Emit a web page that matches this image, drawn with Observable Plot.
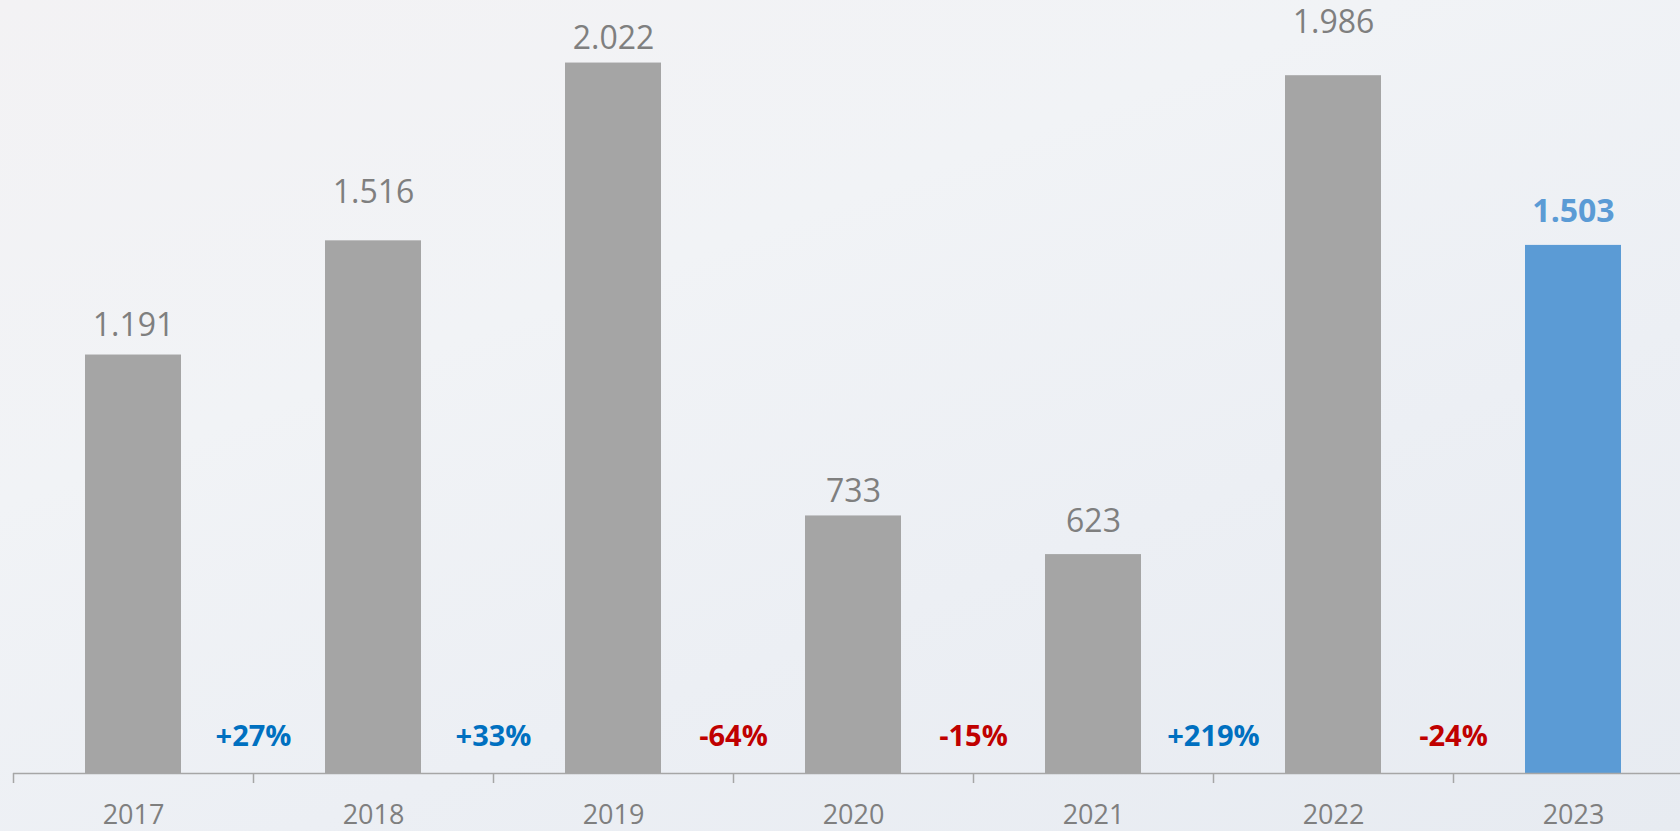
<!DOCTYPE html>
<html>
<head>
<meta charset="utf-8">
<script src="https://cdn.jsdelivr.net/npm/d3@7"></script>
<script src="https://cdn.jsdelivr.net/npm/@observablehq/plot@0.6"></script>
<style>
  html, body { margin: 0; padding: 0; overflow: hidden; }
  body {
    width: 1680px; height: 831px;
    background: linear-gradient(160deg, #f3f2f4 0%, #f1f3f6 35%, #eceff4 65%, #e7ebf1 100%);
    font-family: "Open Sans", sans-serif;
  }
  #chart svg { display: block; }
</style>
</head>
<body>
<div id="chart"></div>
<script>
// ---- data ----
const years = [2017, 2018, 2019, 2020, 2021, 2022, 2023];
const values = [1191, 1516, 2022, 733, 623, 1986, 1503];
const changes = ["+27%", "+33%", "-64%", "-15%", "+219%", "-24%"];
const highlightYear = 2023;
// gap (px) between each bar top and its value label's baseline, as placed in the original
const labelGaps = [19, 38, 14, 14, 23, 43, 23];

// ---- derived tables ----
const data = years.map((year, i) => ({year, value: values[i]}));
const changeData = changes.map((label, i) => ({x: years[i] + 0.5, label}));
const boundaries = [years[0] - 0.5, ...years.map(y => y + 0.5)];

const de = d3.formatLocale({decimal: ",", thousands: ".", grouping: [3], currency: ["", "€"]});
const fmt = de.format(",");

const gray = "#a5a5a5";
const blue = "#5b9bd5";
const labelGray = "#7f7f7f";

const valueLabels = data.map((d, i) => Plot.text([d], {
  x: "year", y: "value", text: r => fmt(r.value),
  dy: -labelGaps[i], lineAnchor: "bottom", fontSize: 32,
  fontWeight: d.year === highlightYear ? "bold" : "normal",
  fill: d.year === highlightYear ? blue : labelGray
}));

const chart = Plot.plot({
  width: 1680,
  height: 831,
  marginTop: 0,
  marginBottom: 58,
  marginLeft: 0,
  marginRight: 0,
  style: {background: "transparent", fontFamily: "'Open Sans', sans-serif", overflow: "visible"},
  x: {type: "linear", domain: [years[0] - 0.5, years[years.length - 1] + 0.5], range: [13, 1693]},
  y: {domain: [0, 2200], range: [773, 0], axis: null},
  color: {type: "identity"},
  marks: [
    Plot.rectY(data, {
      x1: d => d.year - 0.2,
      x2: d => d.year + 0.2,
      y1: 0,
      y2: "value",
      fill: d => d.year === highlightYear ? blue : gray
    }),
    Plot.ruleY([0], {x1: boundaries[0], x2: boundaries[boundaries.length - 1], stroke: "#a6a6a6", strokeWidth: 1.5}),
    Plot.axisX({ticks: boundaries, tickSize: 10, tickFormat: () => "", stroke: "#a6a6a6", strokeWidth: 1.5, label: null}),
    Plot.axisX({ticks: years, tickSize: 0, tickPadding: 31, tickFormat: d => String(d), fontSize: 27, fill: labelGray, label: null}),
    ...valueLabels,
    Plot.text(changeData, {
      x: "x", y: () => 0, text: "label",
      dy: -37, lineAnchor: "middle", fontSize: 29, fontWeight: "bold",
      fill: d => d.label.startsWith("+") ? "#0070c0" : "#c00000"
    })
  ]
});
document.getElementById("chart").appendChild(chart);
</script>
</body>
</html>
